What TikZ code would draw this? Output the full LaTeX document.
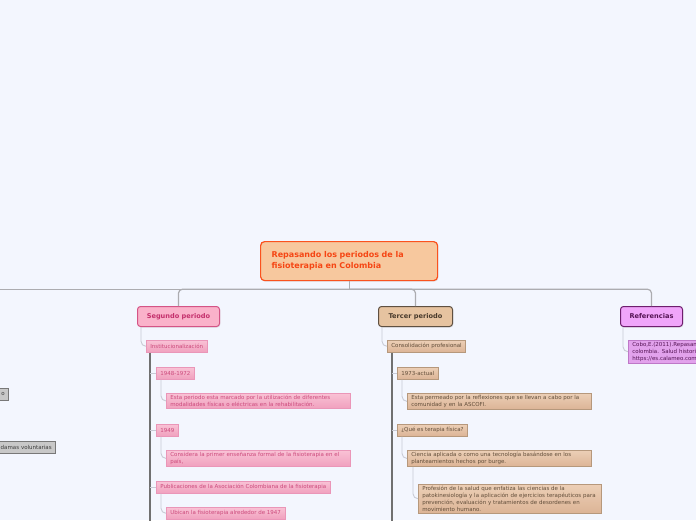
\documentclass[tikz,border=0pt]{standalone}
\usepackage{fontspec}
\setmainfont{DejaVu Sans}
\usepackage{xcolor}
\definecolor{mmbg}{RGB}{243,246,254}
\definecolor{mmline}{RGB}{172,172,176}
\definecolor{mmthin}{RGB}{200,202,212}
\definecolor{mmtrunk}{RGB}{112,112,112}
\definecolor{rootfill}{RGB}{247,200,158}
\definecolor{rootdraw}{RGB}{250,82,30}
\definecolor{roottext}{RGB}{245,70,20}
\definecolor{segfill}{RGB}{250,178,202}
\definecolor{segdraw}{RGB}{212,84,134}
\definecolor{segtext}{RGB}{196,48,108}
\definecolor{segtop}{RGB}{249,194,213}
\definecolor{segbot}{RGB}{240,160,190}
\definecolor{segleafdraw}{RGB}{234,150,184}
\definecolor{segleaftext}{RGB}{204,74,124}
\definecolor{terfill}{RGB}{230,195,160}
\definecolor{terdraw}{RGB}{95,80,65}
\definecolor{tertext}{RGB}{72,58,44}
\definecolor{tertop}{RGB}{236,207,182}
\definecolor{terbot}{RGB}{220,180,150}
\definecolor{terleafdraw}{RGB}{182,152,124}
\definecolor{terleaftext}{RGB}{98,78,58}
\definecolor{reffill}{RGB}{240,165,250}
\definecolor{refdraw}{RGB}{110,30,110}
\definecolor{reftext}{RGB}{85,20,85}
\definecolor{refleaffill}{RGB}{226,162,236}
\definecolor{refleafdraw}{RGB}{190,120,200}
\definecolor{grayfill}{RGB}{200,200,200}
\definecolor{graydraw}{RGB}{120,120,120}
\definecolor{graytext}{RGB}{60,60,60}
\usetikzlibrary{positioning, shadows, calc}

\tikzset{
  conn/.style={draw=mmline, line width=1.2pt, rounded corners=4pt},
  thin conn/.style={draw=mmthin, line width=0.9pt, rounded corners=5pt},
  trunk/.style={draw=mmtrunk, line width=1.6pt},
  topic/.style={anchor=north west, rounded corners=3pt, line width=1pt, minimum height=20pt,
    inner sep=0pt, font=\fontsize{6.6}{8}\selectfont\bfseries,
    drop shadow={opacity=0.18, shadow xshift=0.8pt, shadow yshift=-1pt}},
  segbox/.style={topic, fill=segfill, draw=segdraw, text=segtext},
  terbox/.style={topic, fill=terfill, draw=terdraw, text=tertext},
  refbox/.style={topic, fill=reffill, draw=refdraw, text=reftext},
  leaf/.style={anchor=north west, minimum height=12pt, inner xsep=4pt, inner ysep=2pt,
    line width=0.6pt, align=left, font=\fontsize{5.5}{6.8}\selectfont},
  segleaf/.style={leaf, draw=segleafdraw, top color=segtop, bottom color=segbot, text=segleaftext},
  terleaf/.style={leaf, draw=terleafdraw, top color=tertop, bottom color=terbot, text=terleaftext},
  refleaf/.style={leaf, draw=refleafdraw, fill=refleaffill, text=reftext},
  grayleaf/.style={leaf, anchor=north east, draw=graydraw, fill=grayfill, text=graytext, align=right},
}

\begin{document}
\begin{tikzpicture}[x=1pt, y=-1pt]
  % Background and frame
  \fill[mmbg] (0,0) rectangle (696,520);
  \useasboundingbox (0,0) rectangle (696,520);
  \clip (0,0) rectangle (696,520);

  % --- Central topic ---
  \node[anchor=north west, fill=rootfill, draw=rootdraw, line width=1.2pt, rounded corners=4pt,
        minimum width=177pt, minimum height=39pt, inner xsep=11pt, text width=155pt, align=left,
        text=roottext, font=\fontsize{8}{11}\selectfont\bfseries,
        drop shadow={opacity=0.18, shadow xshift=0.8pt, shadow yshift=-1pt}]
        (root) at (260,241) {Repasando los periodos de la\\fisioterapia en Colombia};

  % --- Main branches ---
  \node[segbox, minimum width=82pt] (seg) at (137,306) {Segundo periodo};
  \node[terbox, minimum width=74pt] (ter) at (378,306) {Tercer periodo};
  \node[refbox, minimum width=62pt] (ref) at (620,306) {Referencias};

  \path (root.south) ++(0,8) coordinate (hub);
  \coordinate (firstp) at (-20,288);
  \draw[conn] (root.south) -- (hub);
  \draw[conn] (hub) -- (hub -| firstp);
  \draw[conn] (hub) -| (seg.north);
  \draw[conn] (hub) -| (ter.north);
  \draw[conn] (hub) -| (ref.north);

  % --- Primer periodo (cut at the left edge) ---
  \node[grayleaf, text width=60pt] (lftA) at (9,388) {o};
  \node[grayleaf, text width=80pt] (lftB) at (56,441) {damas voluntarias};

  % --- Segundo periodo ---
  \node[segleaf] (inst) at (146,340) {Institucionalización};
  \draw[thin conn] ([xshift=4pt]seg.south west) |- (inst.west);
  \draw[trunk] ([xshift=4pt]inst.south west) -- ([xshift=4pt]inst.south west |- 0,540);

  \node[segleaf] (yrA) at (156,367) {1948-1972};
  \node[segleaf, text width=176pt] (descA) at (166,393)
       {Esta periodo esta marcado por la utilización de diferentes\\modalidades físicas o eléctricas en la rehabilitación.};
  \node[segleaf] (yrB) at (156,424) {1949};
  \node[segleaf, text width=176pt] (descB) at (166,450)
       {Considera la primer enseñanza formal de la fisioterapia en el\\país,};
  \node[segleaf] (pubA) at (156,481) {Publicaciones de la Asociación Colombiana de la fisioterapia};
  \node[segleaf] (descC) at (166,507) {Ubican la fisioterapia alrededor de 1947};

  \foreach \n in {yrA, yrB, pubA}
    \draw[thin conn] ([xshift=4pt]inst.south west |- \n.west) -- (\n.west);
  \draw[thin conn] ([xshift=5pt]yrA.south west) |- (descA.west);
  \draw[thin conn] ([xshift=5pt]yrB.south west) |- (descB.west);
  \draw[thin conn] ([xshift=5pt]pubA.south west) |- (descC.west);

  % --- Tercer periodo ---
  \node[terleaf] (cons) at (387,340) {Consolidación profesional};
  \draw[thin conn] ([xshift=4pt]ter.south west) |- (cons.west);
  \draw[trunk] ([xshift=5pt]cons.south west) -- ([xshift=5pt]cons.south west |- 0,540);

  \node[terleaf] (yrC) at (397,367) {1973-actual};
  \node[terleaf, text width=176pt] (descD) at (407,393)
       {Esta permeado por la reflexiones que se llevan a cabo por la\\comunidad y en la ASCOFI.};
  \node[terleaf] (que) at (397,424) {¿Qué es terapia física?};
  \node[terleaf, text width=176pt] (descE) at (407,450)
       {Ciencia aplicada o como una tecnología basándose en los\\planteamientos hechos por burge.};
  \node[terleaf, text width=175pt] (descF) at (418,484)
       {Profesión de la salud que enfatiza las ciencias de la\\patokinesiología y la aplicación de ejercicios terapéuticos para\\prevención, evaluación y tratamientos de desordenes en\\movimiento humano.};

  \foreach \n in {yrC, que}
    \draw[thin conn] ([xshift=5pt]cons.south west |- \n.west) -- (\n.west);
  \draw[thin conn] ([xshift=5pt]yrC.south west) |- (descD.west);
  \draw[thin conn] ([xshift=5pt]que.south west) |- (descE.west);
  \draw[thin conn] ([xshift=6pt]descE.south west) |- (descF.west);

  % --- Referencias ---
  \node[refleaf, text width=190pt] (refA) at (628,340)
       {Cobo,E.(2011).Repasando los periodos de la fisioterapia en\\colombia. Salud historia y sanidad.\\https://es.calameo.com/read/};
  \draw[thin conn] ([xshift=3pt]ref.south west) |- (refA.west);
\end{tikzpicture}
\end{document}
